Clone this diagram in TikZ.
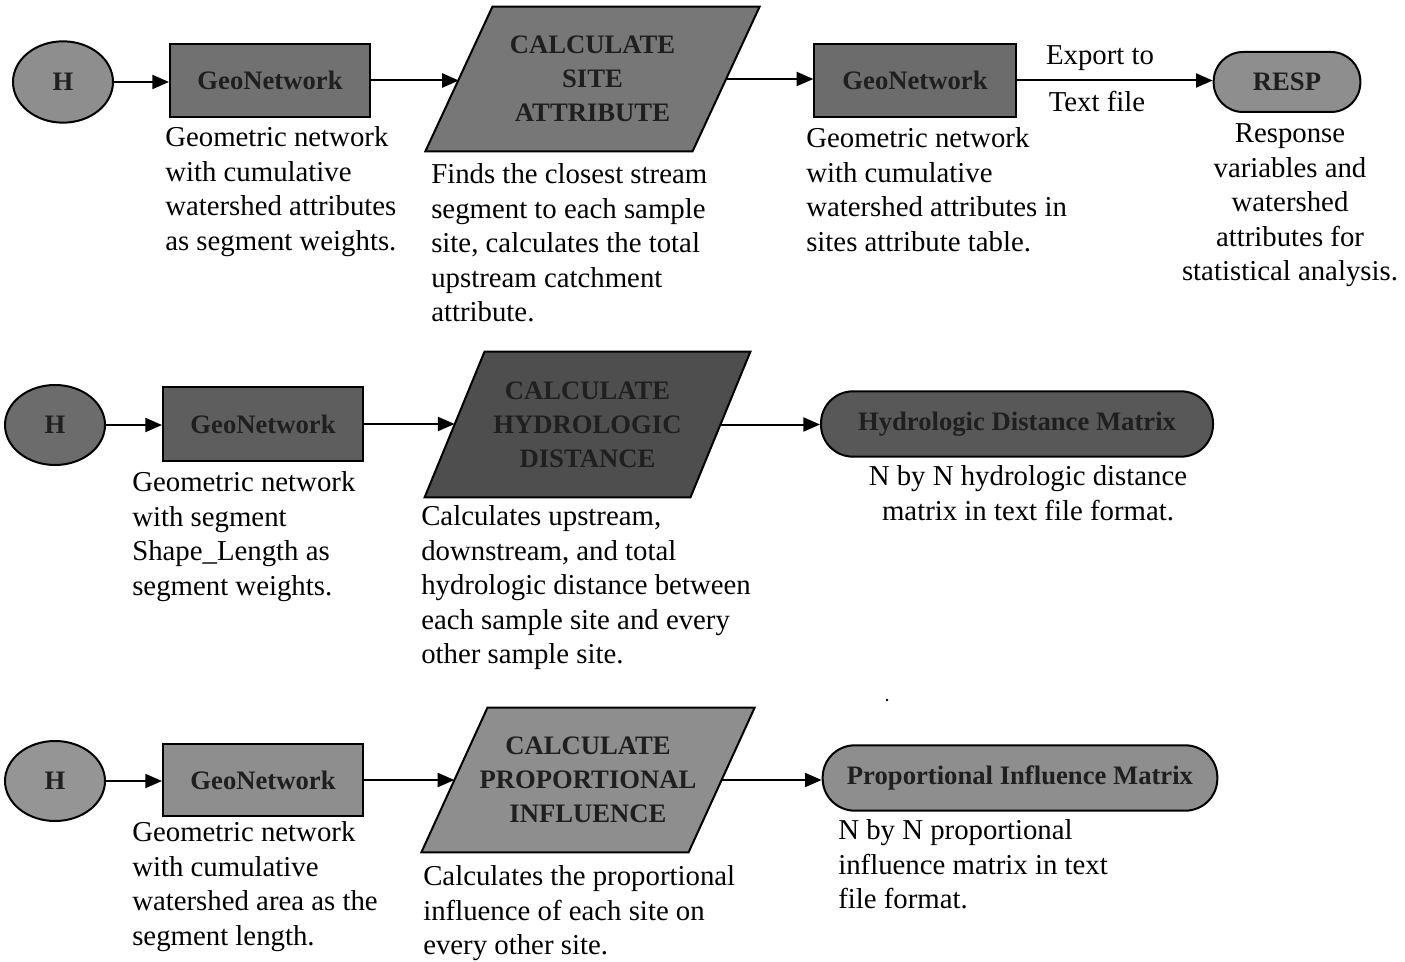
\documentclass[tikz,border=0pt]{standalone}
\usepackage{fontspec}
\setmainfont{Liberation Serif}
\usetikzlibrary{arrows.meta,calc,shapes.geometric,backgrounds}

% top strut so that a text block's north edge sits a fixed height above its first baseline
\newcommand\upst{\rule{0pt}{16pt}}
% parallelogram drawn around a process node: #1 node, #2 half slant (px), #3 fill
\newcommand\slantbox[3]{%
  \begin{scope}[on background layer]
    \filldraw[outline, fill=#3]
      ($(#1.south west)+(-#2,0)$) -- ($(#1.south east)+(-#2,0)$) --
      ($(#1.north east)+(#2,0)$) -- ($(#1.north west)+(#2,0)$) -- cycle;
  \end{scope}}

\definecolor{gA}{HTML}{8E8E8E}
\definecolor{gB}{HTML}{717171}
\definecolor{gC}{HTML}{777777}
\definecolor{gD}{HTML}{6C6C6C}
\definecolor{gE}{HTML}{5E5E5E}
\definecolor{gF}{HTML}{4E4E4E}
\definecolor{gG}{HTML}{585858}
\definecolor{gH}{HTML}{959595}
\definecolor{gI}{HTML}{8E8E8E}

\begin{document}
\begin{tikzpicture}[x=0.75pt,y=-0.75pt,
  every node/.style={inner sep=0pt},
  outline/.style={draw=black, line width=1.5pt},
  shapetext/.style={font=\fontsize{20pt}{25.5pt}\selectfont\bfseries, text=black!88, align=center},
  startnode/.style={ellipse, outline, shapetext, minimum width=75pt, minimum height=61pt},
  netbox/.style={rectangle, outline, shapetext, minimum width=150pt, minimum height=55pt},
  procbox/.style={rectangle, shapetext, minimum width=200pt, minimum height=108pt},
  capsule/.style={rectangle, outline, shapetext, rounded corners=22pt, minimum width=110pt, minimum height=45pt},
  matrixbox/.style={rectangle, outline, shapetext, rounded corners=24pt, minimum width=294pt, minimum height=49pt},
  notes/.style={font=\fontsize{21.6pt}{25.9pt}\selectfont, align=left, anchor=north west},
  cnotes/.style={font=\fontsize{21.6pt}{25.9pt}\selectfont, align=center, anchor=north},
  flow/.style={line width=1.5pt, -{Triangle[length=12.5pt,width=10.5pt]}}
]
\useasboundingbox (0,0) rectangle (1405,962);

% ---------- row 1: site attributes ----------
\node[startnode, fill=gA] (c1) at (63,82) {H};
\node[netbox, fill=gB] (b1) at (270,80.5) {GeoNetwork};
\node[procbox] (p1) at (592.5,79) {CALCULATE\\SITE\\ATTRIBUTE};
\slantbox{p1}{33.5}{gC}
\node[netbox, fill=gD, minimum width=151pt] (b2) at (915,80.5) {GeoNetwork};
\node[capsule, fill=gA] (resp) at (1287,82) {RESP};
\node[font=\fontsize{21.6pt}{25.9pt}\selectfont, anchor=base] (exp1) at (1100,65) {Export to};
\node[font=\fontsize{21.6pt}{25.9pt}\selectfont, anchor=base] (exp2) at (1097,112) {Text file};

\draw[flow] (c1.east) -- (c1.east -| b1.west);
\draw[flow] (b1.east) -- (b1.east -| p1.west);
\draw[flow] (p1.east) -- (p1.east -| b2.west);
\draw[flow] (b2.east) -- (b2.east -| resp.west);

\node[notes] (n1) at (165,125) {\upst Geometric network\\with cumulative\\watershed attributes\\as segment weights.};
\node[notes] (n2) at (431,162) {\upst Finds the closest stream\\segment to each sample\\site, calculates the total\\upstream catchment\\attribute.};
\node[notes] (n3) at (806,126) {\upst Geometric network\\with cumulative\\watershed attributes in\\sites attribute table.};
\node[cnotes] (n4) at (1290,121) {\upst Response\\variables and\\watershed\\attributes for\\statistical analysis.};

% ---------- row 2: hydrologic distance ----------
\node[startnode, fill=gD, minimum height=60pt] (c2) at (55,425) {H};
\node[netbox, fill=gE] (b3) at (263,424) {GeoNetwork};
\node[procbox, minimum width=199pt, minimum height=109pt] (p2) at (587.5,424.5) {CALCULATE\\HYDROLOGIC\\DISTANCE};
\slantbox{p2}{30}{gF}
\node[matrixbox, fill=gG] (e2) at (1017,424) {Hydrologic Distance Matrix};

\draw[flow] (c2.east) -- (c2.east -| b3.west);
\draw[flow] (b3.east) -- (b3.east -| p2.west);
\draw[flow] (p2.east) -- (p2.east -| e2.west);

\node[notes] (n5) at (132,470) {\upst Geometric network\\with segment\\Shape\_Length as\\segment weights.};
\node[notes] (n6) at (421,504) {\upst Calculates upstream,\\downstream, and total\\hydrologic distance between\\each sample site and every\\other sample site.};
\node[cnotes] (n7) at (1028,464) {\upst N by N hydrologic distance\\matrix in text file format.};

\fill (887,700) circle (1.4);

% ---------- row 3: proportional influence ----------
\node[startnode, fill=gH, minimum height=60pt] (c3) at (55,781) {H};
\node[netbox, fill=gI, minimum height=54pt] (b4) at (263,780) {GeoNetwork};
\node[procbox, minimum width=200pt, minimum height=108pt] (p3) at (588,780) {CALCULATE\\PROPORTIONAL\\INFLUENCE};
\slantbox{p3}{33}{gI}
\node[matrixbox, fill=gI, minimum width=296pt] (e3) at (1020,778) {Proportional Influence Matrix};

\draw[flow] (c3.east) -- (c3.east -| b4.west);
\draw[flow] (b4.east) -- (b4.east -| p3.west);
\draw[flow] (p3.east) -- (p3.east -| e3.west);

\node[notes] (n8) at (132,820) {\upst Geometric network\\with cumulative\\watershed area as the\\segment length.};
\node[notes] (n9) at (423,864) {\upst Calculates the proportional\\influence of each site on\\every other site.};
\node[notes] (n10) at (838,818) {\upst N by N proportional\\influence matrix in text\\file format.};
\end{tikzpicture}
\end{document}
